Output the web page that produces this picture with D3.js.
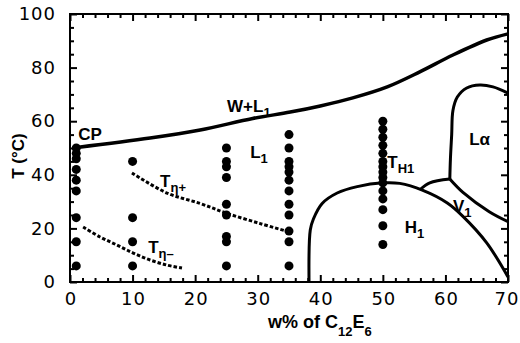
<!DOCTYPE html>
<html>
<head>
<meta charset="utf-8">
<script src="https://cdn.jsdelivr.net/npm/d3@7"></script>
<style>
body { margin: 0; background: #fff; }
text { font-family: "Liberation Sans", Arial, sans-serif; fill: #000; }
</style>
</head>
<body>
<svg width="520" height="343"></svg>
<script>
// tick labels
var xTicks = [0, 10, 20, 30, 40, 50, 60, 70];
var yTicks = [0, 20, 40, 60, 80, 100];

// measured points, one column per composition (w%)
var colW = [1, 10, 25, 35, 50];
var colT = [
  [50, 48, 46, 42, 38, 34, 24, 15, 6],
  [45, 24, 15, 6],
  [50, 45, 43, 39, 29, 25, 17, 15, 6],
  [55, 50, 45, 43, 41, 38, 34, 29, 25, 19, 15, 6],
  [60, 57, 54, 51, 48, 45, 43, 41, 39, 37, 34, 31, 27, 21, 14]
];

// phase boundaries [w%, T]
var cloudCurve = [[1.1, 50.2], [12.8, 53.7], [20.8, 56.7], [29.2, 61], [35.2, 63.4], [40, 65.7],
  [45.2, 68.7], [50.7, 72.8], [55.9, 78.4], [61.2, 84.7], [66.6, 90.3], [70, 92.6]];
var h1Curve = [[38.2, 0], [38.4, 19.4], [38.9, 23.5], [40.3, 29.3], [42.7, 33.2], [45.9, 35.6],
  [50, 37], [52.7, 36.8], [56.4, 34.2], [60.3, 29.5], [62.8, 24.5], [66.6, 14.6], [70, 1.9]];
var v1Top = [[56, 34.6], [57.5, 37], [60.7, 38.4]];
var v1Right = [[60.7, 38.4], [62.8, 33.4], [67, 26.2], [70, 22.5]];
var laCurve = [[60.7, 38.4], [60.8, 46], [61, 55], [61.2, 64], [61.9, 69], [63.4, 72.4],
  [65.5, 73.5], [67.6, 72.8], [70, 70.5]];
var tEtaPlus = [[9.9, 40.7], [15.5, 33.2], [20.8, 29.3], [25.1, 25.6], [30.4, 21.8], [34.7, 18.9]];
var tEtaMinus = [[2.1, 20.5], [4.8, 16.8], [7.5, 13.8], [10.1, 10.8], [12.8, 8.2], [15.5, 6.3], [17.9, 5.2]];

var svg = d3.select('svg');
var mLeft = 70, mRight = 508, mTop = 14, mBottom = 282;

var x = d3.scaleLinear().domain([0, 70]).range([mLeft, mRight]);
var y = d3.scaleLinear().domain([0, 100]).range([mBottom, mTop]);

var xMinor = d3.range(0, 71, 2).filter(function(d){ return d % 10 != 0 });
var yMinor = d3.range(0, 101, 5).filter(function(d){ return d % 20 != 0 });

function tickAxis(g, axisFn, scale, major, minor, labels) {
  g.append('g').call(axisFn(scale).tickValues(minor).tickSize(-4).tickFormat(''))
  g.append('g').call(axisFn(scale).tickValues(major).tickSize(-7)
    .tickFormat(labels ? d3.format('d') : '').tickPadding(labels ? 13 : 0))
  g.selectAll('path.domain').remove();
  g.selectAll('line').attr('stroke', '#000').attr('stroke-width', 2);
}

tickAxis(svg.append('g').attr('class', 'xb').attr('transform', 'translate(0,' + mBottom + ')'),
  d3.axisBottom, x, xTicks, xMinor, true);
tickAxis(svg.append('g').attr('transform', 'translate(0,' + mTop + ')'),
  d3.axisTop, x, xTicks, xMinor, false);
tickAxis(svg.append('g').attr('class', 'yl').attr('transform', 'translate(' + mLeft + ',0)'),
  d3.axisLeft, y, yTicks, yMinor, true);
tickAxis(svg.append('g').attr('transform', 'translate(' + mRight + ',0)'),
  d3.axisRight, y, yTicks, yMinor, false);

svg.selectAll('.tick text').style('font-size', '18px').style('letter-spacing', '1px')
  .style('font-family', '"DejaVu Sans", sans-serif').attr('fill', '#000');
svg.selectAll('.xb .tick text').attr('dy', '0.55em')
  .attr('dx', function(d){ return d == 70 ? '-1.5px' : '0.5px' });
svg.selectAll('.yl .tick text').attr('dx', '-1px');

svg.append('rect')
  .attr('x', mLeft).attr('y', mTop).attr('width', mRight - mLeft).attr('height', mBottom - mTop)
  .attr('fill', 'none').attr('stroke', '#000').attr('stroke-width', 2);

var smooth = d3.line().curve(d3.curveCatmullRom.alpha(0.5))
  .x(function(d){ return x(d[0]) }).y(function(d){ return y(d[1]) });

svg.append('path').attr('d', smooth(cloudCurve)).attr('fill', 'none')
  .attr('stroke', '#000').attr('stroke-width', 3.5);

[h1Curve, v1Top, v1Right, laCurve].forEach(function(c){
  svg.append('path').attr('d', smooth(c)).attr('fill', 'none').attr('stroke', '#000')
    .attr('stroke-width', 3).attr('stroke-linejoin', 'round');
});
[tEtaPlus, tEtaMinus].forEach(function(c){
  svg.append('path').attr('d', smooth(c)).attr('fill', 'none').attr('stroke', '#000')
    .attr('stroke-width', 3).attr('stroke-dasharray', '3.5,2');
});

colW.forEach(function(w, i){
  svg.append('g').selectAll('circle')
    .data(colT[i])
    .enter()
    .append('circle')
    .attr('cx', x(w))
    .attr('cy', function(d){ return y(d) })
    .attr('r', 4.5)
    .attr('fill', '#000');
});

// region labels: [text, subscript, w%, T]
var labels = [
  ['W+L', '1', 25.1, 63.4],
  ['CP', '', 1.3, 53],
  ['L', '1', 28.8, 46.3],
  ['T', '\u03b7+', 14.4, 35.4],
  ['T', '\u03b7\u2013', 12.5, 10.8],
  ['T', 'H1', 50.7, 42.5],
  ['H', '1', 53.5, 18.3],
  ['V', '1', 61.2, 26.1]
];

labels.forEach(function(l){
  var t = svg.append('text')
    .attr('x', x(l[2])).attr('y', y(l[3]))
    .style('font-size', '17px').style('font-weight', 'bold');
  t.append('tspan').text(l[0]);
  if (l[1]) t.append('tspan').attr('dy', 5).style('font-size', '13px').text(l[1]);
});

svg.append('text').attr('x', x(63.8)).attr('y', y(51.1))
  .style('font-size', '17px').style('font-weight', 'bold').text('L\u03b1');

// axis titles
var xt = svg.append('text').attr('x', 268).attr('y', 328)
  .style('font-size', '18px').style('font-weight', 'bold');
xt.append('tspan').text('w% of C');
xt.append('tspan').attr('dy', 8).style('font-size', '13px').text('12');
xt.append('tspan').attr('dy', -8).text('E');
xt.append('tspan').attr('dy', 8).style('font-size', '13px').text('6');

svg.append('text')
  .attr('transform', 'translate(24,156) rotate(-90)')
  .attr('text-anchor', 'middle')
  .style('font-size', '17px').style('font-weight', 'bold')
  .text('T (\u00b0C)');
</script>
</body>
</html>
